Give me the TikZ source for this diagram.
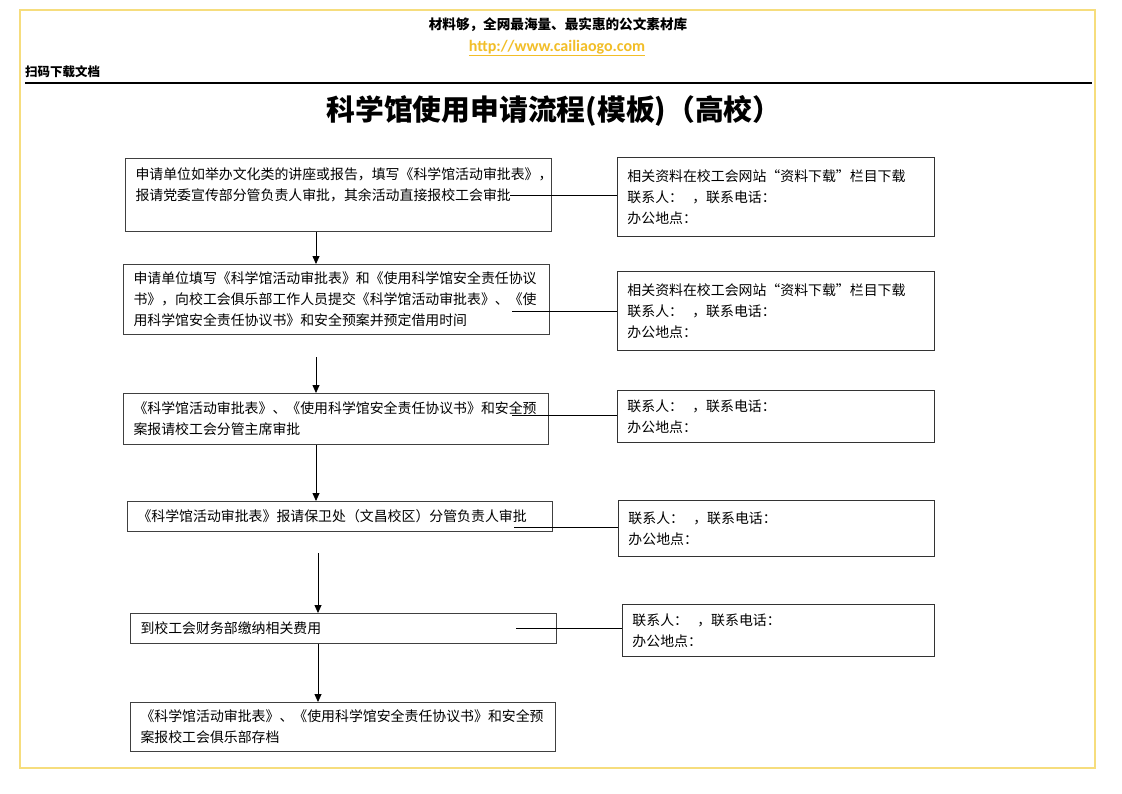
\documentclass[tikz,border=0pt]{standalone}
\usepackage{fontspec}
\usepackage{xcolor}
\usetikzlibrary{arrows.meta,positioning}
\newfontfamily\cjk{Noto Sans CJK SC}
\newfontfamily\urlfont{Carlito}
\definecolor{framegold}{RGB}{246,221,125}
\definecolor{linkgold}{RGB}{242,190,40}

\begin{document}
\begin{tikzpicture}[x=1pt, y=-1pt, >=latex, font=\cjk,
  stepbox/.style={draw=black!75, line width=1pt, anchor=north west, align=left,
    font=\cjk\fontsize{13.9}{21}\selectfont, inner xsep=10pt, inner ysep=0pt},
  infobox/.style={draw=black!80, line width=0.9pt, anchor=north west, align=left,
    font=\cjk\fontsize{13.9}{21}\selectfont, inner xsep=10pt, inner ysep=0pt},
  link/.style={line width=0.8pt},
  flow/.style={line width=0.8pt, -{Triangle[width=7pt,length=8pt]}}]

% Page and frame
\useasboundingbox (0,0) rectangle (1122,793);
\fill[white] (0,0) rectangle (1122,793);
\draw[framegold, line width=2pt] (20,10) rectangle (1095,768);

% Header
\node[font=\cjk\bfseries\fontsize{13.6}{15}\selectfont] (slogan) at (558,25) {材料够，全网最海量、最实惠的公文素材库};
\node[font=\urlfont\bfseries\fontsize{16}{18}\selectfont, text=linkgold] (url) at (557,48) {\underline{http://www.cailiaogo.com}};
\node[font=\cjk\bfseries\fontsize{12.5}{14}\selectfont, anchor=west, inner xsep=0pt] (scan) at (25,72) {扫码下载文档};
\draw[line width=1.1pt] (25,83) -- (1092,83);
\node[font=\cjk\bfseries\fontsize{28.8}{32}\selectfont] (title) at (554,111) {科学馆使用申请流程(模板)（高校）};

% Process steps
\node[stepbox, text width=406pt, minimum height=73pt] (b1) at (125,158)
  {申请单位如举办文化类的讲座或报告，填写《科学馆活动审批表》，\\报请党委宣传部分管负责人审批，其余活动直接报校工会审批\\ \mbox{}};
\node[stepbox, text width=406pt, minimum height=70pt] (b2) at (123,264)
  {申请单位填写《科学馆活动审批表》和《使用科学馆安全责任协议\\书》，向校工会俱乐部工作人员提交《科学馆活动审批表》、《使\\用科学馆安全责任协议书》和安全预案并预定借用时间};
\node[stepbox, text width=405pt, minimum height=51pt] (b3) at (123,393)
  {《科学馆活动审批表》、《使用科学馆安全责任协议书》和安全预\\案报请校工会分管主席审批};
\node[stepbox, text width=405pt, minimum height=30pt] (b4) at (127,501)
  {《科学馆活动审批表》报请保卫处（文昌校区）分管负责人审批};
\node[stepbox, text width=406pt, minimum height=30pt] (b5) at (130,613)
  {到校工会财务部缴纳相关费用};
\node[stepbox, text width=405pt, minimum height=49pt] (b6) at (130,702)
  {《科学馆活动审批表》、《使用科学馆安全责任协议书》和安全预\\案报校工会俱乐部存档};

% Contact boxes
\node[infobox, text width=297pt, minimum height=79pt] (r1) at (617,157)
  {相关资料在校工会网站“资料下载”栏目下载\\联系人：\ \ ，联系电话：\\办公地点：};
\node[infobox, text width=297pt, minimum height=79pt] (r2) at (617,271)
  {相关资料在校工会网站“资料下载”栏目下载\\联系人：\ \ ，联系电话：\\办公地点：};
\node[infobox, text width=297pt, minimum height=52pt] (r3) at (617,390)
  {联系人：\ \ ，联系电话：\\办公地点：};
\node[infobox, text width=296pt, minimum height=56pt] (r4) at (618,500)
  {联系人：\ \ ，联系电话：\\办公地点：};
\node[infobox, text width=292pt, minimum height=52pt] (r5) at (622,604)
  {联系人：\ \ ，联系电话：\\办公地点：};

% Links from steps to contacts
\coordinate (s1) at (510,195);
\coordinate (s2) at (512,311);
\coordinate (s3) at (512,415);
\coordinate (s4) at (514,527);
\coordinate (s5) at (516,628);
\foreach \i in {1,...,5}
  \draw[link] (s\i) -- (s\i -| r\i.west);

% Flow arrows
\coordinate (a2) at (316,357);
\coordinate (a4) at (318,553);
\draw[flow] (b1.south -| 316,0) -- (b2.north -| 316,0);
\draw[flow] (a2) -- (b3.north -| a2);
\draw[flow] (b3.south -| 316,0) -- (b4.north -| 316,0);
\draw[flow] (a4) -- (b5.north -| a4);
\draw[flow] (b5.south -| 318,0) -- (b6.north -| 318,0);

\end{tikzpicture}
\end{document}
